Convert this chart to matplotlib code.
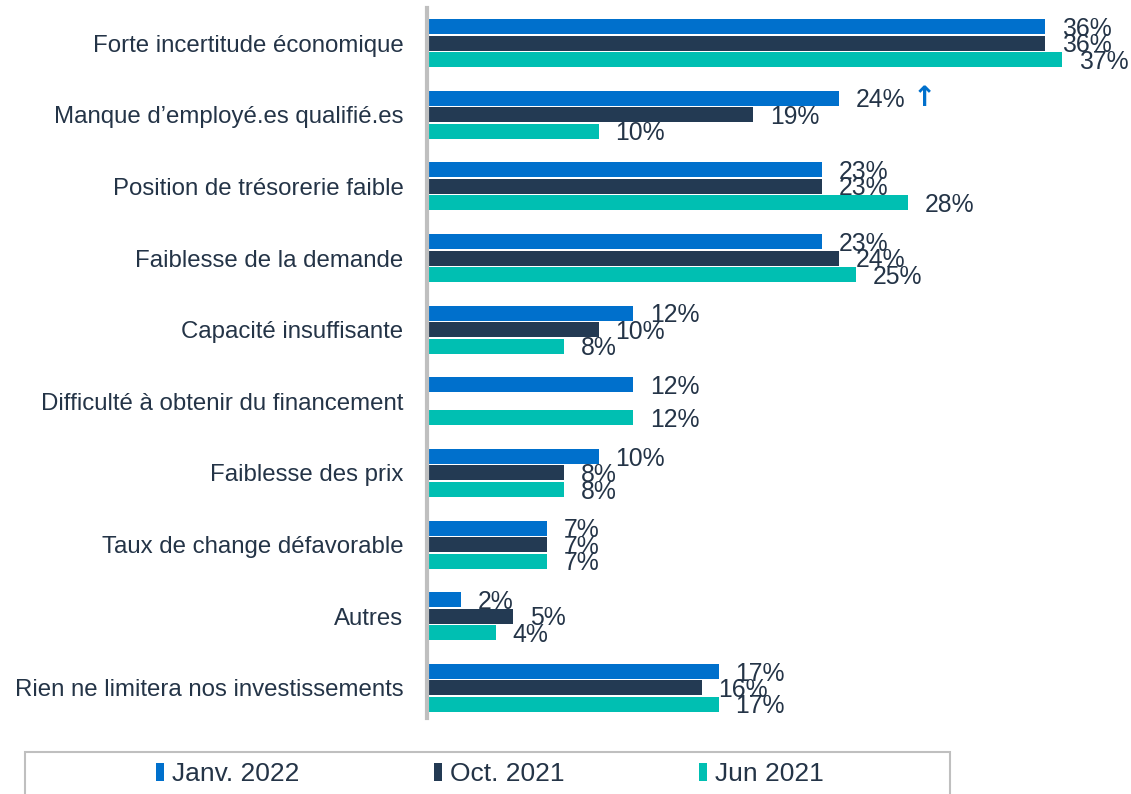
import numpy as np
import matplotlib.pyplot as plt
from matplotlib.patches import Patch, Rectangle

plt.rcParams['font.family'] = ['Liberation Sans', 'DejaVu Sans']

# données
categories = ['Forte incertitude économique', 'Manque d\u2019employé.es qualifié.es',
              'Position de trésorerie faible', 'Faiblesse de la demande',
              'Capacité insuffisante', 'Difficulté à obtenir du financement',
              'Faiblesse des prix', 'Taux de change défavorable', 'Autres',
              'Rien ne limitera nos investissements']
janv_2022 = [36, 24, 23, 23, 12, 12, 10, 7, 2, 17]
oct_2021 = [36, 19, 23, 24, 10, np.nan, 8, 7, 5, 16]
jun_2021 = [37, 10, 28, 25, 8, 12, 8, 7, 4, 17]
series_names = ['Janv. 2022', 'Oct. 2021', 'Jun 2021']
hausse = [False, True, False, False, False, False, False, False, False, False]  # flèche ↑ sur Janv. 2022

colors = ['#0070CC', '#233A53', '#00BFB2']
text_color = '#243447'

fig = plt.figure(figsize=(11.31, 7.94), dpi=100)
ax = fig.add_axes([427 / 1131, 76 / 794, (1131 - 427) / 1131, 710 / 794])

y = np.arange(len(categories))
offsets = [-0.23, 0, 0.23]
for vals, off, col in zip([janv_2022, oct_2021, jun_2021], offsets, colors):
    vals = np.array(vals, dtype=float)
    ax.barh(y + off, np.nan_to_num(vals), height=0.21, color=col)
    for yi, v in zip(y + off, vals):
        if np.isnan(v):
            continue
        ax.annotate(f'{v:.0f}%', xy=(v, yi), xytext=(12, -1.5), textcoords='offset points',
                    ha='left', va='center', fontsize=17.8, color=text_color)

for yi, v, up in zip(y + offsets[0], janv_2022, hausse):
    if up:
        ax.annotate('\u2191', xy=(v, yi), xytext=(53, 0), textcoords='offset points',
                    ha='left', va='center', fontsize=20, color=colors[0],
                    family='DejaVu Sans', fontweight='bold')

ax.set_ylim(9.42, -0.49)
ax.set_xlim(0, 41)
ax.set_yticks(y)
ax.set_yticklabels(categories, fontsize=17.3, color=text_color)
ax.tick_params(axis='y', length=0, pad=17)
ax.set_xticks([])
for s in ['top', 'right', 'bottom']:
    ax.spines[s].set_visible(False)
ax.spines['left'].set_color('#BFBFBF')
ax.spines['left'].set_linewidth(3)

handles = [Patch(facecolor=c, edgecolor='none') for c in colors]
fig.legend(handles, series_names, loc='center', bbox_to_anchor=(490 / 1131, 1 - 774 / 794),
           ncol=3, frameon=False, fontsize=19, handlelength=0.3, handleheight=0.7,
           handletextpad=0.3, columnspacing=5.1, labelcolor=text_color)
fig.add_artist(Rectangle((25 / 1131, -0.05), 925 / 1131, 42 / 794 + 0.05,
                         transform=fig.transFigure, fill=False,
                         edgecolor='#BFBFBF', linewidth=1.5, clip_on=False))

fig.savefig('out.png', dpi=100)
